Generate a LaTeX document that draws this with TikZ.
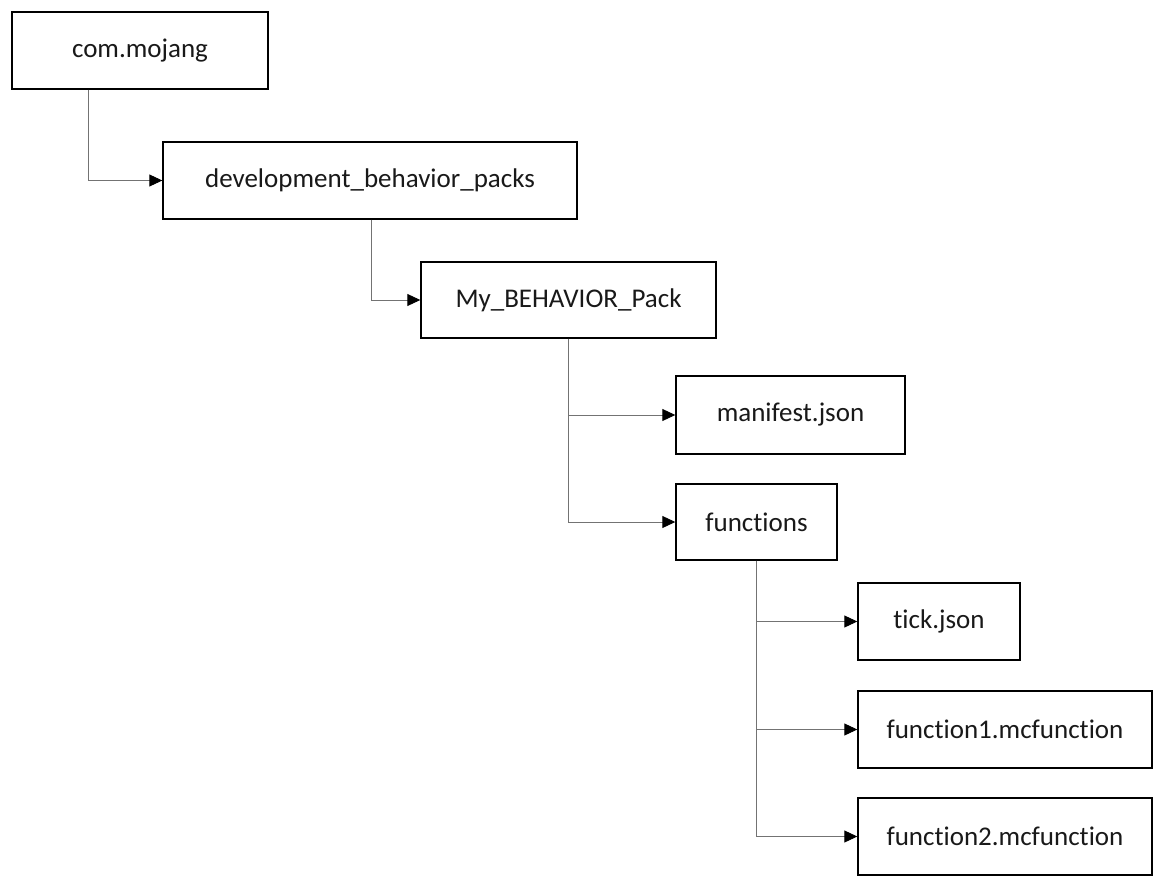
\documentclass[tikz,border=0pt]{standalone}
\usepackage{fontspec}
\setmainfont{Carlito}[Ligatures=NoCommon]
\usetikzlibrary{arrows.meta}
\begin{document}
\begin{tikzpicture}[x=1pt,y=1pt,
  box/.style={draw=black,line width=1.4pt,fill=white,inner sep=0pt,font=\fontsize{27}{32}\selectfont,text=black!90,minimum height=77pt},
  conn/.style={draw=black!55,line width=0.9pt,-{Triangle[length=13pt,width=12pt,fill=black,color=black]}}]
\useasboundingbox[fill=white] (0,0) rectangle (1164,-888);
\node[box,minimum width=256pt] (com) at (140,-50.5) {com.mojang};
\node[box,minimum width=414pt] (dev) at (370,-180.5) {development\_behavior\_packs};
\node[box,minimum width=295pt,minimum height=76pt] (mbp) at (568.5,-300) {My\_BEHAVIOR\_Pack};
\node[box,minimum width=229pt,minimum height=78pt] (man) at (790.5,-415) {manifest.json};
\node[box,minimum width=161pt,minimum height=76pt] (fun) at (756.5,-522) {functions};
\node[box,minimum width=162pt] (tick) at (939,-621.5) {tick.json};
\node[box,minimum width=294pt] (f1) at (1005,-729.5) {function1.mcfunction};
\node[box,minimum width=294pt] (f2) at (1005,-836.5) {function2.mcfunction};
\draw[conn] ([xshift=-52pt]com.south) |- (dev.west);
\draw[conn] ([xshift=1pt]dev.south) |- (mbp.west);
\draw[conn] (mbp.south) |- (man.west);
\draw[conn] (mbp.south) |- (fun.west);
\draw[conn] (fun.south) |- (tick.west);
\draw[conn] (fun.south) |- (f1.west);
\draw[conn] (fun.south) |- (f2.west);
\end{tikzpicture}
\end{document}
